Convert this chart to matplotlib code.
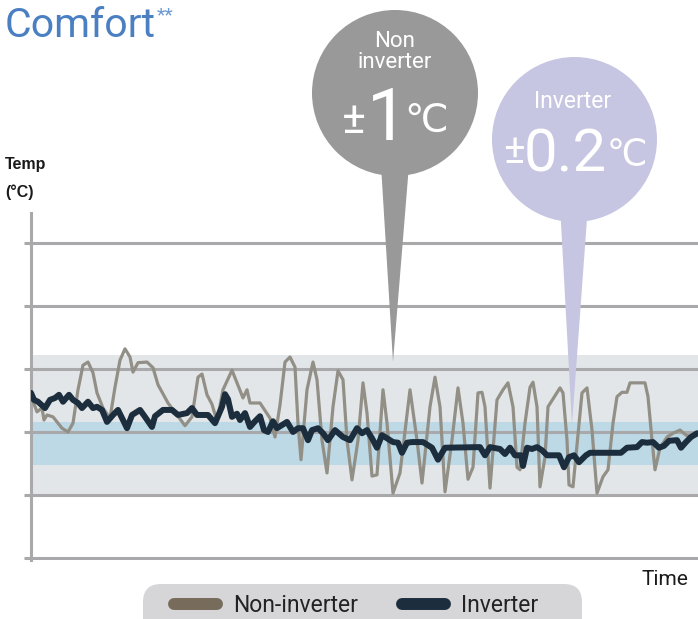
import matplotlib
matplotlib.use("Agg")
import matplotlib.pyplot as plt
from matplotlib.patches import Circle, Polygon, FancyBboxPatch
from matplotlib.lines import Line2D
from matplotlib.transforms import Affine2D

# ---------------- data (time index, temperature in degC) ----------------
non_inv_time = [0, 6, 11, 13, 16, 22, 31, 37, 42, 47, 52, 57, 62, 66, 72, 79, 84, 89, 94, 99,
                102, 107, 116, 122, 127, 137, 146, 154, 161, 167, 171, 176, 181, 186, 192, 201,
                206, 212, 216, 219, 229, 239, 244, 249, 254, 259, 264, 267, 270, 276, 282, 286,
                291, 296, 302, 307, 312, 316, 321, 327, 332, 336, 341, 346, 352, 356, 362, 369,
                379, 386, 391, 399, 404, 409, 414, 421, 427, 432, 437, 442, 447, 451, 454, 459,
                466, 472, 477, 482, 486, 489, 494, 499, 502, 506, 509, 514, 517, 529, 532, 536,
                538, 542, 551, 556, 561, 566, 572, 577, 582, 586, 591, 596, 599, 614, 617, 621,
                624, 629, 636, 642, 649, 655, 661, 667]
non_inv_temp = [24.57, 24.32, 24.38, 24.19, 24.27, 24.24, 24.06, 24.00, 24.14, 24.67, 25.06,
                25.11, 24.94, 24.62, 24.38, 24.22, 24.71, 25.14, 25.32, 25.19, 24.95, 25.10,
                25.11, 25.02, 24.75, 24.46, 24.27, 24.10, 24.24, 24.87, 24.92, 24.59, 24.44,
                24.17, 24.67, 24.98, 24.78, 24.54, 24.67, 24.46, 24.46, 24.22, 23.92, 24.43,
                25.11, 25.19, 25.03, 24.14, 23.56, 24.67, 25.11, 24.83, 23.87, 23.35, 24.40,
                24.97, 24.83, 23.87, 23.24, 23.87, 24.78, 24.30, 23.30, 23.32, 24.67, 24.14,
                23.03, 23.35, 24.67, 23.87, 23.19, 24.40, 24.87, 24.40, 23.05, 23.87, 24.70,
                24.14, 23.25, 23.44, 24.62, 24.63, 24.40, 23.11, 24.51, 24.67, 24.78, 24.40,
                23.44, 23.40, 24.14, 24.71, 24.79, 24.40, 23.13, 23.60, 24.40, 24.70, 24.62,
                23.87, 23.16, 23.13, 24.62, 24.70, 24.03, 23.03, 23.29, 23.40, 24.14, 24.56,
                24.63, 24.63, 24.78, 24.78, 24.56, 23.87, 23.40, 23.75, 23.92, 23.98, 24.03,
                23.95, 23.92, 23.95]

inv_time = [0, 3, 7, 14, 19, 24, 28, 32, 38, 42, 47, 51, 57, 62, 66, 71, 76, 82, 87, 92,
            96, 101, 109, 114, 121, 124, 132, 141, 147, 156, 161, 166, 177, 184, 191, 194,
            197, 201, 206, 209, 214, 219, 224, 229, 233, 237, 242, 246, 256, 262, 267, 272,
            277, 281, 287, 292, 297, 304, 312, 319, 326, 331, 336, 341, 346, 351, 356, 362,
            367, 371, 376, 381, 392, 401, 407, 414, 449, 454, 459, 469, 474, 479, 484, 490,
            492, 496, 501, 506, 511, 516, 528, 533, 538, 543, 548, 555, 559, 590, 596, 606,
            611, 616, 622, 628, 633, 638, 646, 650, 655, 660, 666]
inv_temp = [24.62, 24.51, 24.48, 24.38, 24.51, 24.54, 24.59, 24.48, 24.59, 24.51,
            24.46, 24.38, 24.48, 24.38, 24.40, 24.35, 24.16, 24.27, 24.35, 24.19,
            24.06, 24.27, 24.35, 24.24, 24.08, 24.25, 24.35, 24.35, 24.27, 24.30,
            24.38, 24.27, 24.27, 24.14, 24.40, 24.60, 24.52, 24.24, 24.29, 24.19,
            24.30, 24.08, 24.17, 24.25, 24.03, 24.00, 24.17, 24.06, 24.16, 24.00,
            24.06, 24.06, 23.87, 24.03, 24.06, 23.98, 23.87, 24.03, 23.92, 23.87,
            24.06, 23.98, 24.03, 23.90, 23.75, 23.95, 23.90, 23.84, 23.83, 23.67,
            23.83, 23.84, 23.84, 23.75, 23.56, 23.75, 23.76, 23.63, 23.76, 23.73,
            23.65, 23.75, 23.63, 23.63, 23.46, 23.75, 23.73, 23.76, 23.71, 23.63,
            23.63, 23.44, 23.60, 23.63, 23.52, 23.63, 23.67, 23.67, 23.75, 23.76,
            23.84, 23.83, 23.84, 23.75, 23.78, 23.86, 23.87, 23.75, 23.84, 23.92,
            23.98]

grid_temps = [22, 23, 24, 25, 26, 27]
non_inv_range = (23.0, 25.22)   # grey band
inv_range = (23.48, 24.16)      # blue band

series_labels = ["Non-inverter", "Inverter"]
title = "Comfort"
title_note = "**"
y_label = "Temp\n(°C)"
x_label = "Time"
bubble_non = ("Non\ninverter", "±", "1", "℃")
bubble_inv = ("Inverter", "±", "0.2", "℃")

# ---------------- figure ----------------
W, H = 698, 619
fig = plt.figure(figsize=(W / 100, H / 100), dpi=100)
fig.patch.set_facecolor("white")
px = Affine2D().scale(1 / W, -1 / H).translate(0, 1) + fig.transFigure

ax = fig.add_axes([31 / W, (H - 560) / H, (W - 31) / W, (560 - 213) / H])
ax.set_xlim(0, 667)
ax.set_ylim(21.968, 27.476)
ax.patch.set_visible(False)

GRID = "#a9a9ab"
ax.axhspan(*non_inv_range, color="#e3e6e8", zorder=0.1, lw=0)
ax.axhspan(*inv_range, color="#bcd9e5", zorder=0.2, lw=0)
ax.set_yticks(grid_temps)
ax.set_xticks([])
ax.set_axisbelow(True)
ax.yaxis.grid(True, color=GRID, lw=2.2)
ax.tick_params(axis="y", length=5, width=2.2, color=GRID, labelleft=False)
for s in ["top", "right", "bottom"]:
    ax.spines[s].set_visible(False)
ax.spines["left"].set_color(GRID)
ax.spines["left"].set_linewidth(2.2)

ax.plot(non_inv_time, non_inv_temp, color="#928f86", lw=2.3, zorder=3,
        solid_joinstyle="round", solid_capstyle="round")
ax.plot(inv_time, inv_temp, color="#1c2e3e", lw=4.3, zorder=4,
        solid_joinstyle="round", solid_capstyle="round")

# ---------------- bubbles ----------------
GRAYB = "#999999"
LAV = "#c6c6e2"
ax.add_patch(Polygon([(381, 165), (409, 165), (393, 362)], closed=True, transform=px,
                     clip_on=False, color=GRAYB, lw=0, zorder=1))
ax.add_patch(Circle((395, 93), 83, transform=px, clip_on=False, color=GRAYB, lw=0, zorder=1))
ax.add_patch(Polygon([(560, 205), (588, 205), (572, 425)], closed=True, transform=px,
                     clip_on=False, color=LAV, lw=0, zorder=1))
ax.add_patch(Circle((574.5, 139.5), 82.5, transform=px, clip_on=False, color=LAV, lw=0, zorder=1))

SANS = ["Roboto", "DejaVu Sans"]
def t(x, y, s, size, ha="center", weight="normal", family=SANS, color="white", **kw):
    ax.text(x, y, s, transform=px, ha=ha, va="baseline", fontsize=size, color=color,
            family=family, weight=weight, clip_on=False, zorder=6, **kw)

l1, l2 = bubble_non[0].split("\n")
t(395, 47, l1, 16)
t(395, 68, l2, 16)
t(354, 133, bubble_non[1], 32)
t(387, 140, bubble_non[2], 52)
t(404, 132, bubble_non[3], 28, ha="left", family=["DejaVu Sans"])

t(573, 108, bubble_inv[0], 16.5)
t(514, 163, bubble_inv[1], 29)
t(565, 172, bubble_inv[2], 43)
t(607, 165, bubble_inv[3], 26, ha="left", family=["DejaVu Sans"])

# ---------------- titles / labels ----------------
fig.text(5 / W, 1 - 37 / H, title, fontsize=29.5, color="#4a7fc1", family=SANS,
         va="baseline", ha="left")
fig.text(157 / W, 1 - 20 / H, title_note, fontsize=14, color="#6d9ad3", family=SANS,
         va="baseline", ha="left")
yl1, yl2 = y_label.split("\n")
fig.text(5 / W, 1 - 169 / H, yl1, fontsize=11.5, weight="bold", family=["Liberation Sans"],
         color="#1a1a1a", va="baseline", ha="left")
fig.text(5 / W, 1 - 197 / H, yl2, fontsize=11.5, weight="bold", family=["Liberation Sans"],
         color="#1a1a1a", va="baseline", ha="left")
fig.text(642 / W, 1 - 585 / H, x_label, fontsize=15, family=SANS, color="#1a1a1a",
         va="baseline", ha="left")

# ---------------- legend ----------------
ax.add_patch(FancyBboxPatch((143, 584), 439, 70, boxstyle="round,pad=0,rounding_size=18",
                            transform=px, clip_on=False, color="#d6d6d8", lw=0, zorder=4.5))
fs = 16.5
fpx = fs * 100 / 72
handles = [Line2D([0], [0], color="#776c5b", lw=8.6, solid_capstyle="round"),
           Line2D([0], [0], color="#1c2e3e", lw=8.6, solid_capstyle="round")]
leg = ax.legend(handles, series_labels, loc="center left",
                bbox_to_anchor=(174 / W, (H - 606) / H), bbox_transform=fig.transFigure,
                frameon=False, ncol=2, borderpad=0, borderaxespad=0,
                handlelength=43 / fpx, handletextpad=16 / fpx, columnspacing=44 / fpx,
                prop={"family": SANS, "size": fs}, labelcolor="#222222")
leg.set_zorder(6)

fig.savefig("out.png", dpi=100)
